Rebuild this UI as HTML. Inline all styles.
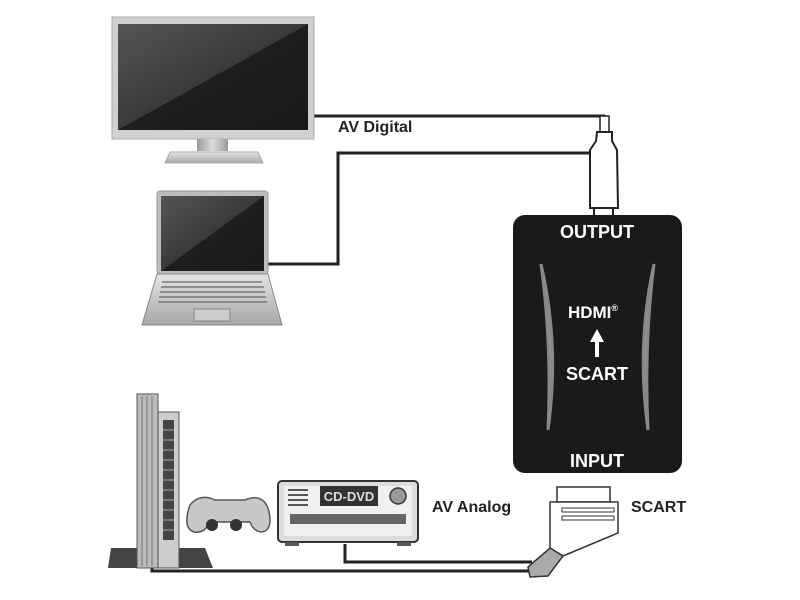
<!DOCTYPE html>
<html><head><meta charset="utf-8"><style>html,body{margin:0;padding:0;background:#fff}svg{display:block}text{font-family:"Liberation Sans",sans-serif;font-weight:bold}</style></head>
<body>
<svg width="800" height="600" viewBox="0 0 800 600" xmlns="http://www.w3.org/2000/svg">
<defs>
<linearGradient id="scr" x1="0" y1="0" x2="1" y2="1"><stop offset="0" stop-color="#555"/><stop offset="0.5" stop-color="#3a3a3a"/><stop offset="0.5" stop-color="#1e1e1e"/><stop offset="1" stop-color="#1a1a1a"/></linearGradient>
<linearGradient id="met" x1="0" y1="0" x2="0" y2="1"><stop offset="0" stop-color="#e4e4e4"/><stop offset="1" stop-color="#a8a8a8"/></linearGradient>
<linearGradient id="met2" x1="0" y1="0" x2="1" y2="0"><stop offset="0" stop-color="#999"/><stop offset="0.5" stop-color="#ddd"/><stop offset="1" stop-color="#999"/></linearGradient>
</defs>
<g fill="none" stroke="#222" stroke-width="3">
<polyline points="314,116 604,116 604,130"/>
<polyline points="268,264 338,264 338,153 594,153"/>
<polyline points="152,560 152,571 530,571"/>
<polyline points="345,544 345,562 532,562"/>
</g>
<rect x="112" y="17" width="202" height="122" fill="#d0d0d0" stroke="#aaa"/>
<rect x="118" y="24" width="190" height="106" fill="url(#scr)"/>
<rect x="197" y="139" width="31" height="12" fill="url(#met2)"/>
<path d="M165,163 L170,152 L258,152 L263,163 Z" fill="url(#met)" stroke="#aaa"/>
<rect x="157" y="191" width="111" height="83" rx="3" fill="#bdbdbd" stroke="#999"/>
<rect x="161" y="196" width="103" height="75" fill="url(#scr)"/>
<path d="M157,274 L268,274 L282,325 L142,325 Z" fill="url(#met)" stroke="#888"/>
<g stroke="#777" stroke-width="1.5"><line x1="162" y1="282" x2="262" y2="282"/><line x1="161" y1="287" x2="264" y2="287"/><line x1="160" y1="292" x2="265" y2="292"/><line x1="159" y1="297" x2="266" y2="297"/><line x1="158" y1="302" x2="267" y2="302"/></g>
<rect x="194" y="309" width="36" height="12" fill="#ccc" stroke="#888"/>
<text x="338" y="132" font-size="16" fill="#222">AV Digital</text>
<rect x="600" y="116" width="9" height="16" fill="#fff" stroke="#222" stroke-width="1.5"/>
<path d="M597,132 L612,132 L612,141 L617,150 L618,208 L590,208 L590,150 L596,141 Z" fill="#fff" stroke="#222" stroke-width="2"/>
<rect x="594" y="208" width="19" height="14" fill="#fff" stroke="#222" stroke-width="2"/>
<rect x="513" y="215" width="169" height="258" rx="12" fill="#1a1a1a"/>
<path d="M541,264 Q560,345 548,430 Q552,345 541,264 Z" fill="#999" stroke="#888" stroke-width="3"/>
<path d="M654,264 Q636,345 648,430 Q644,345 654,264 Z" fill="#999" stroke="#888" stroke-width="3"/>
<g fill="#fff" text-anchor="middle">
<text x="597" y="238" font-size="18">OUTPUT</text>
<text x="593" y="318" font-size="17">HDMI<tspan font-size="9" dy="-7">®</tspan></text>
<text x="597" y="380" font-size="18">SCART</text>
<text x="597" y="467" font-size="18">INPUT</text>
</g>
<path d="M597,329 L590,342 L595,342 L595,357 L599,357 L599,342 L604,342 Z" fill="#fff"/>
<rect x="557" y="487" width="53" height="15" fill="#fff" stroke="#333" stroke-width="1.5"/>
<path d="M550,502 L618,502 L618,533 L563,556 L550,548 Z" fill="#fff" stroke="#333" stroke-width="1.5"/>
<rect x="562" y="508" width="52" height="4" fill="#fff" stroke="#333"/>
<rect x="562" y="516" width="52" height="4" fill="#fff" stroke="#333"/>
<path d="M550,548 L563,556 L548,576 L530,577 L528,567 Z" fill="#aaa" stroke="#333" stroke-width="1.5"/>
<text x="432" y="512" font-size="16" fill="#222">AV Analog</text>
<text x="631" y="512" font-size="16" fill="#222">SCART</text>
<path d="M111,548 L205,548 L213,568 L108,568 Z" fill="#444"/>
<rect x="137" y="394" width="21" height="174" fill="#bbb" stroke="#555"/>
<g stroke="#777"><line x1="142" y1="396" x2="142" y2="566"/><line x1="147" y1="396" x2="147" y2="566"/><line x1="152" y1="396" x2="152" y2="566"/></g>
<rect x="158" y="412" width="21" height="156" fill="#ccc" stroke="#555"/>
<rect x="163" y="420" width="11" height="120" fill="#444"/>
<g stroke="#aaa"><line x1="163" y1="430" x2="174" y2="430"/><line x1="163" y1="440" x2="174" y2="440"/><line x1="163" y1="450" x2="174" y2="450"/><line x1="163" y1="460" x2="174" y2="460"/><line x1="163" y1="470" x2="174" y2="470"/><line x1="163" y1="480" x2="174" y2="480"/><line x1="163" y1="490" x2="174" y2="490"/><line x1="163" y1="500" x2="174" y2="500"/><line x1="163" y1="510" x2="174" y2="510"/><line x1="163" y1="520" x2="174" y2="520"/><line x1="163" y1="530" x2="174" y2="530"/></g>
<path d="M190,505 Q200,493 215,500 L245,500 Q262,493 268,508 Q274,530 262,532 Q254,532 250,522 L210,522 Q204,534 194,532 Q182,528 190,505 Z" fill="#c8c8c8" stroke="#555" stroke-width="1.5"/>
<circle cx="212" cy="525" r="6" fill="#333"/><circle cx="236" cy="525" r="6" fill="#333"/>
<rect x="278" y="481" width="140" height="61" rx="4" fill="#ddd" stroke="#333" stroke-width="2"/>
<rect x="284" y="486" width="128" height="50" fill="#f0f0f0"/>
<rect x="320" y="486" width="58" height="20" fill="#333"/>
<text x="349" y="501" font-size="13" fill="#ddd" text-anchor="middle" font-weight="normal" font-family="Liberation Mono">CD-DVD</text>
<circle cx="398" cy="496" r="8" fill="#999" stroke="#333" stroke-width="1.5"/>
<g stroke="#555" stroke-width="2"><line x1="288" y1="490" x2="308" y2="490"/><line x1="288" y1="495" x2="308" y2="495"/><line x1="288" y1="500" x2="308" y2="500"/><line x1="288" y1="505" x2="308" y2="505"/></g>
<rect x="290" y="514" width="116" height="10" fill="#666"/>
<rect x="285" y="542" width="14" height="4" fill="#555"/><rect x="397" y="542" width="14" height="4" fill="#555"/>
</svg>
</body></html>
